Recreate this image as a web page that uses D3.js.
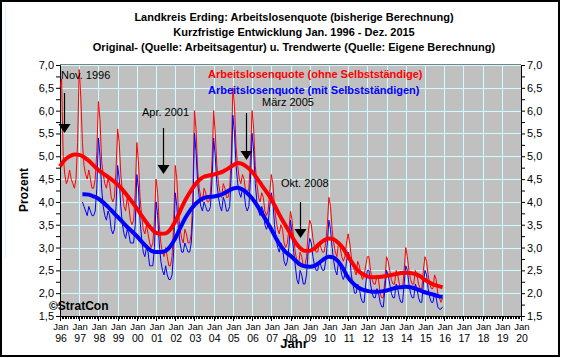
<!DOCTYPE html>
<html><head><meta charset="utf-8">
<script src="https://cdn.jsdelivr.net/npm/d3@7"></script>
<style>
body{margin:0;background:#fff}
svg{display:block}
text{font-family:Arial,"Liberation Sans",sans-serif}
</style>
</head><body>
<svg id="chart" width="561" height="358"></svg>
<script>
// ---------------- data ----------------
const titleLines = [
  "Landkreis Erding: Arbeitslosenquote (bisherige Berechnung)",
  "Kurzfristige Entwicklung Jan. 1996 - Dez. 2015",
  "Original- (Quelle: Arbeitsagentur) u. Trendwerte (Quelle: Eigene Berechnung)"
];
const seriesNames = ["Arbeitslosenquote (ohne Selbstständige)", "Arbeitslosenquote (mit Selbstständigen)"];
const seriesColors = ["#ff0000", "#0000ff"];
const yAxisTitle = "Prozent";
const xAxisTitle = "Jahr";
const yTickValues = [1.5, 2.0, 2.5, 3.0, 3.5, 4.0, 4.5, 5.0, 5.5, 6.0, 6.5, 7.0];
const yearTicks = d3.range(1996, 2021);
const yearTickLabels = yearTicks.map(y => String(y).slice(2));
const monthTickLabel = "Jan";
const annotationTexts = ["Nov. 1996", "Apr. 2001", "März 2005", "Okt. 2008"];
const copyrightText = "©StratCon";

// monthly original values, ohne Selbstständige, from Jan 1996
const redStart = 1996;
const redOriginal = [
  6.5, 6.7, 5.0, 4.6, 4.4, 4.5, 4.7, 4.5, 4.4, 4.3, 4.5, 5.3, // 1996
  6.9, 6.3, 5.3, 4.8, 4.6, 4.5, 4.7, 4.5, 4.3, 4.3, 4.5, 5.1, // 1997
  6.2, 5.8, 4.9, 4.6, 4.4, 4.3, 4.5, 4.4, 4.1, 4.0, 4.1, 4.7, // 1998
  5.6, 5.3, 4.6, 4.2, 3.9, 3.8, 4.1, 3.9, 3.6, 3.5, 3.6, 4.2, // 1999
  5.3, 4.9, 4.1, 3.7, 3.4, 3.3, 3.5, 3.3, 3.1, 3.0, 3.1, 3.6, // 2000
  4.5, 4.2, 3.5, 3.1, 2.9, 2.8, 3.0, 2.8, 2.6, 2.6, 2.8, 3.5, // 2001
  4.8, 4.5, 3.8, 3.4, 3.2, 3.1, 3.4, 3.3, 3.1, 3.1, 3.3, 4.1, // 2002
  6.0, 5.6, 4.7, 4.3, 4.1, 4.0, 4.3, 4.2, 4.0, 4.0, 4.2, 4.9, // 2003
  6.0, 5.5, 4.8, 4.4, 4.2, 4.1, 4.4, 4.3, 4.1, 4.1, 4.3, 5.0, // 2004
  6.5, 6.1, 5.2, 4.8, 4.5, 4.4, 4.6, 4.5, 4.2, 4.2, 4.3, 5.0, // 2005
  6.0, 5.6, 4.8, 4.4, 4.1, 4.0, 4.2, 4.1, 3.8, 3.7, 3.8, 4.2, // 2006
  4.6, 4.4, 3.9, 3.6, 3.4, 3.3, 3.5, 3.4, 3.1, 3.0, 3.1, 3.4, // 2007
  3.8, 3.6, 3.2, 2.9, 2.7, 2.6, 2.9, 2.8, 2.6, 2.6, 2.8, 3.3, // 2008
  3.6, 3.5, 3.2, 3.0, 2.9, 2.9, 3.1, 3.0, 2.9, 2.9, 3.1, 3.5, // 2009
  4.1, 3.9, 3.4, 3.1, 2.9, 2.8, 3.1, 3.0, 2.8, 2.7, 2.8, 3.1, // 2010
  3.3, 3.1, 2.8, 2.6, 2.5, 2.4, 2.7, 2.6, 2.4, 2.3, 2.4, 2.6, // 2011
  2.8, 2.8, 2.5, 2.3, 2.2, 2.2, 2.4, 2.3, 2.0, 1.9, 1.9, 2.3, // 2012
  2.8, 2.7, 2.5, 2.3, 2.2, 2.2, 2.5, 2.4, 2.2, 2.1, 2.1, 2.5, // 2013
  3.0, 2.8, 2.5, 2.3, 2.2, 2.2, 2.5, 2.4, 2.2, 2.1, 2.1, 2.5, // 2014
  2.8, 2.7, 2.4, 2.2, 2.1, 2.1, 2.4, 2.3, 2.0, 1.9, 1.8, 1.9  // 2015
];

// monthly original values, mit Selbstständigen, from Mar 1997
const blueStart = 1997 + 2 / 12;
const blueOriginal = [
            4.0, 3.9, 3.8, 3.7, 3.9, 3.8, 3.7, 3.7, 3.8, 4.3, // 1997
  5.4, 5.0, 4.3, 3.9, 3.7, 3.6, 3.8, 3.7, 3.4, 3.3, 3.4, 3.9, // 1998
  4.8, 4.5, 3.9, 3.5, 3.3, 3.2, 3.4, 3.3, 3.1, 3.1, 3.1, 3.5, // 1999
  4.6, 4.3, 3.6, 3.2, 2.9, 2.8, 3.0, 2.9, 2.6, 2.6, 2.6, 3.0, // 2000
  4.0, 3.7, 3.1, 2.7, 2.5, 2.4, 2.6, 2.4, 2.3, 2.3, 2.4, 2.9, // 2001
  4.2, 3.9, 3.4, 3.1, 2.9, 2.9, 3.1, 3.0, 2.9, 2.9, 3.1, 3.7, // 2002
  5.5, 5.1, 4.4, 4.1, 3.9, 3.8, 4.0, 3.9, 3.8, 3.8, 3.9, 4.5, // 2003
  5.4, 5.0, 4.4, 4.1, 3.9, 3.8, 4.1, 4.0, 3.8, 3.8, 3.9, 4.6, // 2004
  5.9, 5.5, 4.8, 4.4, 4.2, 4.1, 4.3, 4.2, 3.9, 3.8, 3.9, 4.5, // 2005
  5.5, 5.1, 4.4, 4.0, 3.8, 3.7, 3.9, 3.8, 3.5, 3.4, 3.5, 3.9, // 2006
  4.2, 4.0, 3.5, 3.2, 3.0, 2.9, 3.1, 3.0, 2.7, 2.6, 2.7, 3.0, // 2007
  3.6, 3.3, 2.9, 2.6, 2.3, 2.2, 2.5, 2.4, 2.2, 2.2, 2.4, 2.9, // 2008
  3.2, 3.1, 2.8, 2.6, 2.5, 2.5, 2.7, 2.6, 2.5, 2.5, 2.7, 3.1, // 2009
  3.6, 3.4, 3.0, 2.7, 2.5, 2.4, 2.7, 2.6, 2.4, 2.3, 2.4, 2.7, // 2010
  2.9, 2.8, 2.4, 2.2, 2.0, 2.0, 2.2, 2.1, 1.9, 1.8, 1.8, 2.2, // 2011
  2.5, 2.5, 2.2, 2.0, 1.9, 1.9, 2.1, 2.0, 1.8, 1.7, 1.7, 2.1, // 2012
  2.5, 2.4, 2.2, 2.0, 1.9, 1.9, 2.2, 2.1, 1.9, 1.8, 1.8, 2.2, // 2013
  2.6, 2.5, 2.2, 2.0, 1.9, 1.9, 2.2, 2.1, 1.9, 1.8, 1.8, 2.2, // 2014
  2.5, 2.4, 2.1, 1.9, 1.8, 1.8, 2.0, 1.9, 1.7, 1.65, 1.65, 1.7 // 2015
];

// trend values read quarterly (Jan, Apr, Jul, Oct) plus the final month
const redTrendTimes = d3.range(1996, 2016, 0.25).concat([2015 + 11 / 12]);
const redTrend = [
  4.78, 4.92, 5.00, 5.04,  // 1996
  5.03, 4.98, 4.90, 4.80,  // 1997
  4.70, 4.62, 4.55, 4.47,  // 1998
  4.38, 4.27, 4.14, 4.00,  // 1999
  3.86, 3.70, 3.55, 3.42,  // 2000
  3.32, 3.30, 3.31, 3.40,  // 2001
  3.57, 3.80, 4.02, 4.20,  // 2002
  4.36, 4.48, 4.55, 4.58,  // 2003
  4.60, 4.63, 4.67, 4.73,  // 2004
  4.80, 4.85, 4.83, 4.76,  // 2005
  4.66, 4.52, 4.37, 4.22,  // 2006
  4.06, 3.86, 3.66, 3.48,  // 2007
  3.30, 3.12, 2.99, 2.93,  // 2008
  2.93, 2.98, 3.08, 3.16,  // 2009
  3.20, 3.18, 3.10, 2.98,  // 2010
  2.80, 2.64, 2.50, 2.42,  // 2011
  2.37, 2.35, 2.35, 2.36,  // 2012
  2.38, 2.40, 2.42, 2.44,  // 2013
  2.45, 2.44, 2.42, 2.37,  // 2014
  2.29, 2.23, 2.18, 2.15,  // 2015
  2.13
];
const blueTrendTimes = [1997 + 2 / 12].concat(d3.range(1997.25, 2016, 0.25), [2015 + 11 / 12]);
const blueTrend = [
  4.17,
        4.17, 4.16, 4.12,  // 1997
  4.07, 3.99, 3.89, 3.78,  // 1998
  3.67, 3.56, 3.45, 3.35,  // 1999
  3.25, 3.13, 3.02, 2.93,  // 2000
  2.90, 2.90, 2.93, 3.03,  // 2001
  3.20, 3.42, 3.63, 3.80,  // 2002
  3.93, 4.03, 4.09, 4.11,  // 2003
  4.12, 4.14, 4.18, 4.24,  // 2004
  4.29, 4.31, 4.27, 4.19,  // 2005
  4.08, 3.93, 3.76, 3.58,  // 2006
  3.40, 3.20, 3.03, 2.90,  // 2007
  2.82, 2.72, 2.63, 2.59,  // 2008
  2.58, 2.60, 2.67, 2.75,  // 2009
  2.80, 2.78, 2.69, 2.53,  // 2010
  2.34, 2.22, 2.13, 2.08,  // 2011
  2.05, 2.03, 2.03, 2.04,  // 2012
  2.06, 2.09, 2.12, 2.13,  // 2013
  2.14, 2.13, 2.10, 2.06,  // 2014
  2.02, 1.99, 1.96, 1.93,  // 2015
  1.92
];

// ---------------- layout ----------------
const svg = d3.select("#chart");
const L = 60, R = 521, T = 65, B = 316;
const x = d3.scaleLinear().domain([1996, 2020]).range([L, R]);
const y = d3.scaleLinear().domain([1.5, 7.0]).range([B, T]);

// frame
svg.append("rect").attr("x", 1).attr("y", 1).attr("width", 558).attr("height", 355)
  .attr("fill", "#fff").attr("stroke", "#000").attr("stroke-width", 2);
svg.append("line").attr("x1", 5.5).attr("x2", 5.5).attr("y1", 3).attr("y2", 258)
  .attr("stroke", "#ccffff").attr("stroke-width", 1);

// titles
svg.append("g").selectAll("text").data(titleLines).join("text")
  .attr("x", 294).attr("y", (d, i) => 21 + i * 15)
  .attr("text-anchor", "middle").attr("font-size", 11).attr("font-weight", "bold")
  .text(d => d);

// plot background
svg.append("rect").attr("x", L).attr("y", T - 1).attr("width", R - L).attr("height", B - T + 1)
  .attr("fill", "#c0c0c0");
svg.append("line").attr("x1", L).attr("x2", R).attr("y1", T - 0.5).attr("y2", T - 0.5)
  .attr("stroke", "#808080");

// grid
const grid = svg.append("g").attr("stroke", "#ccffff").attr("stroke-width", 1);
grid.selectAll(".gx").data(yearTicks.slice(1, -1)).join("line")
  .attr("x1", d => Math.round(x(d)) + 0.5).attr("x2", d => Math.round(x(d)) + 0.5)
  .attr("y1", T).attr("y2", B);
grid.selectAll(".gy").data(yTickValues.slice(1)).join("line")
  .attr("x1", L).attr("x2", R)
  .attr("y1", d => Math.round(y(d)) + 0.5).attr("y2", d => Math.round(y(d)) + 0.5);

// axes
const fmt = v => d3.format(".1f")(v).replace(".", ",");
const minorY = d3.range(1.5, 7.01, 0.25);
const yLeft = d3.axisLeft(y).tickValues(minorY).tickSize(4)
  .tickFormat(v => (Math.abs(v * 2 - Math.round(v * 2)) < 1e-6 ? fmt(v) : ""));
const yRight = d3.axisRight(y).tickValues(minorY).tickSize(4)
  .tickFormat(v => (Math.abs(v * 2 - Math.round(v * 2)) < 1e-6 ? fmt(v) : ""));
const gL = svg.append("g").attr("transform", `translate(${L},0)`).call(yLeft);
const gR = svg.append("g").attr("transform", `translate(${R},0)`).call(yRight);
[gL, gR].forEach(g => {
  g.select(".domain").attr("stroke", "#000");
  g.selectAll("text").attr("font-size", 11).attr("fill", "#000")
    .attr("font-family", "Arial, 'Liberation Sans', sans-serif");
});
gL.selectAll("text").attr("x", -6);
gR.selectAll("text").attr("x", 6);

// bottom axis: monthly minor ticks + yearly major
const months = d3.range(1996, 2020 + 1e-9, 1 / 12);
const gB = svg.append("g").attr("transform", `translate(0,${B})`);
gB.append("line").attr("x1", L).attr("x2", R).attr("y1", 0.5).attr("y2", 0.5).attr("stroke", "#000");
gB.selectAll(".mt").data(months).join("line")
  .attr("x1", d => Math.round(x(d)) + 0.5).attr("x2", d => Math.round(x(d)) + 0.5)
  .attr("y1", 0).attr("y2", 3).attr("stroke", "#000");
gB.selectAll(".yt").data(yearTicks).join("line")
  .attr("x1", d => Math.round(x(d)) + 0.5).attr("x2", d => Math.round(x(d)) + 0.5)
  .attr("y1", 0).attr("y2", 5).attr("stroke", "#000");
gB.selectAll(".jan").data(yearTicks).join("text")
  .attr("x", d => x(d) + 1).attr("y", 14).attr("text-anchor", "middle")
  .attr("font-size", 9.5).text(monthTickLabel);
gB.selectAll(".yr").data(yearTicks).join("text")
  .attr("x", d => x(d) + 1).attr("y", 26).attr("text-anchor", "middle")
  .attr("font-size", 10.5).text((d, i) => yearTickLabels[i]);

// axis titles
svg.append("text").attr("transform", "translate(28,190) rotate(-90)")
  .attr("text-anchor", "middle").attr("font-size", 12).attr("font-weight", "bold").text(yAxisTitle);
svg.append("text").attr("x", 294).attr("y", 348).attr("text-anchor", "middle")
  .attr("font-size", 13).attr("font-weight", "bold").text(xAxisTitle);

// series
const plot = svg.append("g");
const thin = d3.line().x(d => x(d[0])).y(d => y(d[1]));
const smooth = d3.line().x(d => x(d[0])).y(d => y(d[1])).curve(d3.curveMonotoneX);
const redOrigPts = redOriginal.map((v, i) => [redStart + i / 12, v]);
const blueOrigPts = blueOriginal.map((v, i) => [blueStart + i / 12, v]);
const redTrendPts = redTrend.map((v, i) => [redTrendTimes[i], v]);
const blueTrendPts = blueTrend.map((v, i) => [blueTrendTimes[i], v]);

plot.append("path").attr("d", thin(redOrigPts)).attr("fill", "none")
  .attr("stroke", seriesColors[0]).attr("stroke-width", 1);
plot.append("path").attr("d", thin(blueOrigPts)).attr("fill", "none")
  .attr("stroke", seriesColors[1]).attr("stroke-width", 1);
plot.append("path").attr("d", smooth(redTrendPts)).attr("fill", "none")
  .attr("stroke", seriesColors[0]).attr("stroke-width", 4);
plot.append("path").attr("d", smooth(blueTrendPts)).attr("fill", "none")
  .attr("stroke", seriesColors[1]).attr("stroke-width", 4);

// legend
svg.append("g").selectAll("text").data(seriesNames).join("text")
  .attr("x", 208).attr("y", (d, i) => 78 + i * 15.5)
  .attr("font-size", 11).attr("font-weight", "bold")
  .attr("fill", (d, i) => seriesColors[i]).text(d => d);

// annotations
const annLayout = [
  {tx: 61, ty: 79, ax: 64, a0: 93, a1: 133},
  {tx: 142, ty: 116, ax: 163, a0: 128, a1: 174},
  {tx: 262, ty: 106, ax: 246, a0: 113, a1: 160},
  {tx: 281, ty: 187, ax: 300, a0: 202, a1: 238}
];
const ann = svg.append("g");
annotationTexts.forEach((t, i) => {
  const a = annLayout[i];
  ann.append("text").attr("x", a.tx).attr("y", a.ty).attr("font-size", 11).text(t);
  ann.append("line").attr("x1", a.ax + 0.5).attr("x2", a.ax + 0.5).attr("y1", a.a0).attr("y2", a.a1 - 6)
    .attr("stroke", "#000").attr("stroke-width", 1.2);
  ann.append("path")
    .attr("d", `M${a.ax - 5.5},${a.a1 - 9} L${a.ax + 6.5},${a.a1 - 9} L${a.ax + 0.5},${a.a1} Z`)
    .attr("fill", "#000");
});

svg.append("text").attr("x", 49).attr("y", 310).attr("font-size", 12).attr("font-weight", "bold")
  .text(copyrightText);
</script>
</body></html>
